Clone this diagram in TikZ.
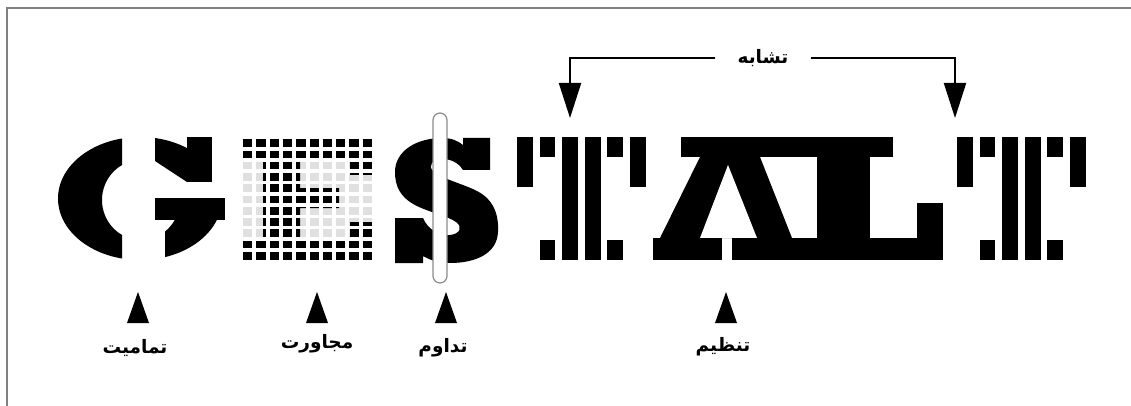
\documentclass[tikz,border=0pt]{standalone}
\usepackage{fontspec}
\newfontfamily\arabicfont[Script=Arabic]{DejaVu Sans}
\TeXXeTstate=1
\usetikzlibrary{arrows.meta}

\begin{document}
\begin{tikzpicture}[x=1pt,y=-1pt,
  lbl/.style={font=\arabicfont\bfseries\fontsize{18.5}{22}\selectfont,inner sep=0pt},
  simline/.style={line width=2pt,-{Triangle[length=35pt,width=22pt]}},
  cell/.style={fill=black!12},
  clipbox/.style={draw=black!45,line width=1.2pt,fill=white,rounded corners=7pt}]

\useasboundingbox (0,0) rectangle (1131,406);
\draw[black!50,line width=1.5pt] (7,406) -- (7,8) -- (1131,8);

% G  (closure)
\begin{scope}
  \clip (50,130) rectangle (122,270);
  \fill[even odd rule] (140,198.5) ellipse [x radius=82,y radius=61.5] (141,200) ellipse [x radius=39,y radius=40];
\end{scope}
\begin{scope}
  \clip (155,130) -- (187,130) -- (187,182) -- (155,161) -- cycle;
  \fill[even odd rule] (140,198.5) ellipse [x radius=82,y radius=61.5] (141,200) ellipse [x radius=39,y radius=40];
\end{scope}
\begin{scope}
  \clip (165,198) rectangle (235,265);
  \fill[even odd rule] (140,198.5) ellipse [x radius=82,y radius=61.5] (141,200) ellipse [x radius=39,y radius=40];
\end{scope}
\fill (187,137) rectangle (212,182);
\fill (155,198) rectangle (225,220);

% E  (proximity)
\foreach \i in {0,...,9}
  \foreach \j in {0,...,10}
    \fill[cell] ({243+13.3*\i},{139.3+11.25*\j}) rectangle +(9.3,7.7);
\begin{scope}
  \clip (240,136) -- (378,136) -- (378,175) -- (350,175) -- (350,160) -- (300,160)
    -- (300,188) -- (339,188) -- (339,208) -- (300,208) -- (300,240) -- (350,240)
    -- (350,222) -- (378,222) -- (378,263) -- (240,263) -- (240,240) -- (263,240)
    -- (263,160) -- (240,160) -- cycle;
  \foreach \i in {0,...,9}
    \foreach \j in {0,...,10}
      \fill ({243+13.3*\i},{139.3+11.25*\j}) rectangle +(9.3,7.7);
\end{scope}

% S  (continuity)
\fill (490,138) -- (490,170) -- (463,170)
  .. controls (458,162) and (450,159) .. (442,159)
  .. controls (432,159) and (428,166) .. (433,171)
  .. controls (440,178) and (460,183) .. (475,190)
  .. controls (492,198) and (499,212) .. (498,232)
  .. controls (497,254) and (475,263) .. (450,263)
  .. controls (438,263) and (430,260) .. (423,256)
  -- (423,263) -- (395,263) -- (395,218) -- (423,218)
  .. controls (428,230) and (440,236) .. (450,235)
  .. controls (460,234) and (463,227) .. (456,222)
  .. controls (448,216) and (428,212) .. (415,205)
  .. controls (400,197) and (395,186) .. (395,172)
  .. controls (395,150) and (418,138) .. (442,138)
  .. controls (452,138) and (458,141) .. (463,145)
  -- (463,138) -- cycle;
\draw[clipbox] (433,113) rectangle (447,283);

% T T  (similarity)
\foreach \tx in {517,957}{
  \foreach \k in {0,5} \fill ({\tx+22.6*\k},137) rectangle +(15.8,50);
  \foreach \k in {1,4}{
    \fill ({\tx+22.6*\k},137) rectangle +(15.8,20);
    \fill ({\tx+22.6*\k},240) rectangle +(15.8,20);
  }
  \foreach \k in {2,3} \fill ({\tx+22.6*\k},137) rectangle +(15.8,123);
}

% A L  (order)
\fill (660,238) -- (700,157) -- (760,157) -- (792,238) -- cycle;
\fill[white] (700,238) -- (728,165) -- (757,238) -- cycle;
\fill (681,137) rectangle (893,157);
\fill (653,238) rectangle (722,260);
\fill (732,238) rectangle (943,260);
\fill (817,157) rectangle (870,238);
\fill (917,203) rectangle (943,238);

% similarity bracket
\node[lbl,inner xsep=22pt] (sim) at (763,58) {\beginR تشابه\endR};
\coordinate (simL) at (570,118);
\coordinate (simR) at (955,118);
\draw[simline] (sim.west) -| (simL);
\draw[simline] (sim.east) -| (simR);

% pointers and labels
\foreach \px in {138,317,446,726}
  \fill ({\px-11},323) -- (\px,292) -- ({\px+11},323) -- cycle;
\node[lbl] (clo) at (135,348) {\beginR تمامیت\endR};
\node[lbl] (prox) at (317,344) {\beginR مجاورت\endR};
\node[lbl] (cont) at (443,348) {\beginR تداوم\endR};
\node[lbl] (ord) at (723,347) {\beginR تنظیم\endR};
\end{tikzpicture}
\end{document}
